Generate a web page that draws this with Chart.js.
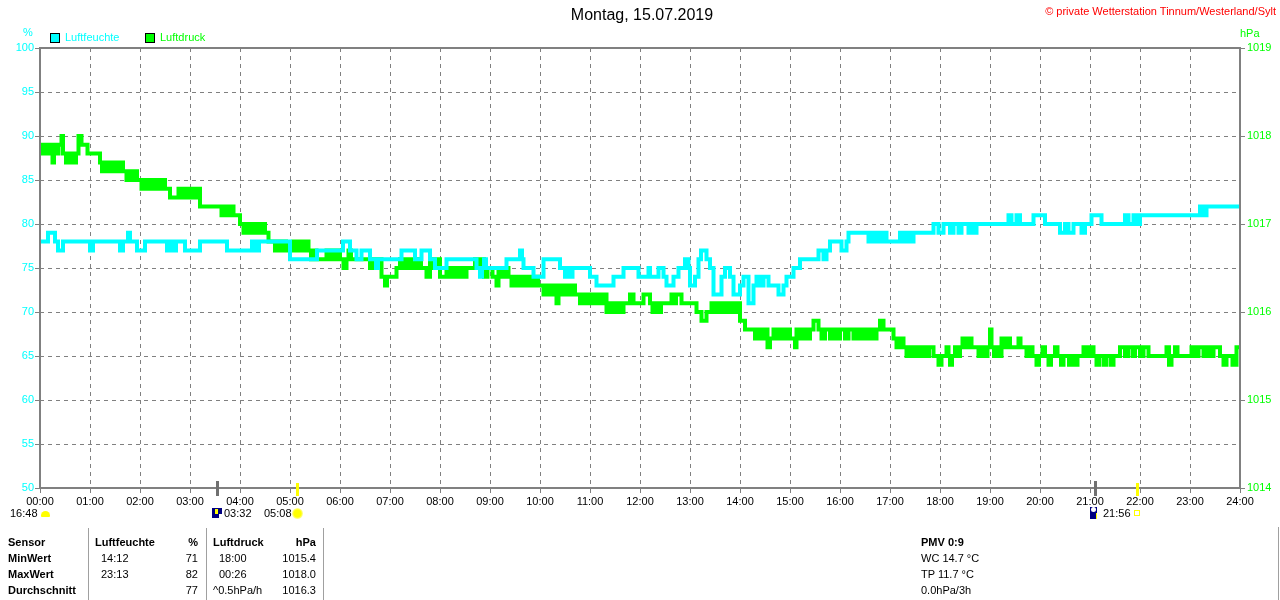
<!DOCTYPE html>
<html lang="de">
<head>
<meta charset="utf-8">
<title>Montag, 15.07.2019</title>
<script src="https://cdn.jsdelivr.net/npm/chart.js@4.4.1/dist/chart.umd.min.js"></script>
<style>
  body { margin: 0; background: #fff; font-family: "Liberation Sans", Arial, sans-serif; font-size: 11px; color: #000; }
  #wrap { position: relative; width: 1280px; height: 600px; overflow: hidden; }
  #chart { position: absolute; left: 0; top: 0; }
  .t { position: absolute; white-space: nowrap; line-height: 13px; }
  .b { font-weight: bold; }
  .vl { position: absolute; width: 1px; background: #a0a0a0; top: 528px; height: 72px; }
  .sq { position: absolute; width: 8px; height: 8px; border: 1px solid #000; top: 33px; }
</style>
</head>
<body>
<div id="wrap">
  <canvas id="chart" width="1280" height="600"></canvas>

  <div class="t" style="left:0;width:1284px;text-align:center;top:6px;font-size:16px;line-height:18px;">Montag, 15.07.2019</div>
  <div class="t" style="right:4px;top:5px;color:#ff0000;">© private Wetterstation Tinnum/Westerland/Sylt</div>

  <div class="t" style="left:23px;top:26px;color:#00ffff;">%</div>
  <div class="t" style="left:1240px;top:27px;color:#00ff00;">hPa</div>

  <div class="sq" style="left:50px;background:#00ffff;"></div>
  <div class="t" style="left:65px;top:31px;color:#00ffff;">Luftfeuchte</div>
  <div class="sq" style="left:145px;background:#00ff00;"></div>
  <div class="t" style="left:160px;top:31px;color:#00ff00;">Luftdruck</div>

  <!-- Zeiten unter der Achse -->
  <div class="t" style="left:10px;top:507px;">16:48</div>
  <div style="position:absolute;left:41px;top:511px;width:9px;height:6px;background:#ffff00;border-radius:5px 5px 1px 1px;"></div>
  <div style="position:absolute;left:212px;top:508px;width:10px;height:10px;background:#000080;"></div>
  <div style="position:absolute;left:215px;top:509px;width:3px;height:5px;background:#ffff00;"></div>
  <div style="position:absolute;left:219px;top:514px;width:3px;height:4px;background:#ffffff;"></div>
  <div class="t" style="left:224px;top:507px;">03:32</div>
  <div class="t" style="left:264px;top:507px;">05:08</div>
  <div style="position:absolute;left:292px;top:508px;width:11px;height:11px;border-radius:6px;background:radial-gradient(circle,#ffff00 45%,#ffffa0 70%,#fff 100%);"></div>
  <div style="position:absolute;left:1090px;top:507px;width:7px;height:12px;background:#000080;"></div>
  <div style="position:absolute;left:1091px;top:507px;width:5px;height:5px;border-radius:3px;background:#ffffff;"></div>
  <div style="position:absolute;left:1096px;top:513px;width:1px;height:6px;background:#ffff00;"></div>
  <div class="t" style="left:1103px;top:507px;">21:56</div>
  <div style="position:absolute;left:1134px;top:510px;width:4px;height:4px;border:1px solid #ffff00;"></div>

  <!-- Tabelle -->
  <div class="vl" style="left:88px;"></div>
  <div class="vl" style="left:206px;"></div>
  <div class="vl" style="left:323px;"></div>
  <div class="vl" style="left:1278px;top:527px;height:73px;"></div>

  <div class="t b" style="left:8px;top:536px;">Sensor</div>
  <div class="t b" style="left:8px;top:552px;">MinWert</div>
  <div class="t b" style="left:8px;top:568px;">MaxWert</div>
  <div class="t b" style="left:8px;top:584px;">Durchschnitt</div>

  <div class="t b" style="left:95px;top:536px;">Luftfeuchte</div>
  <div class="t b" style="right:1082px;top:536px;">%</div>
  <div class="t" style="left:101px;top:552px;">14:12</div>
  <div class="t" style="right:1082px;top:552px;">71</div>
  <div class="t" style="left:101px;top:568px;">23:13</div>
  <div class="t" style="right:1082px;top:568px;">82</div>
  <div class="t" style="right:1082px;top:584px;">77</div>

  <div class="t b" style="left:213px;top:536px;">Luftdruck</div>
  <div class="t b" style="right:964px;top:536px;">hPa</div>
  <div class="t" style="left:219px;top:552px;">18:00</div>
  <div class="t" style="right:964px;top:552px;">1015.4</div>
  <div class="t" style="left:219px;top:568px;">00:26</div>
  <div class="t" style="right:964px;top:568px;">1018.0</div>
  <div class="t" style="left:213px;top:584px;">^0.5hPa/h</div>
  <div class="t" style="right:964px;top:584px;">1016.3</div>

  <div class="t b" style="left:921px;top:536px;">PMV 0:9</div>
  <div class="t" style="left:921px;top:552px;">WC 14.7 °C</div>
  <div class="t" style="left:921px;top:568px;">TP 11.7 °C</div>
  <div class="t" style="left:921px;top:584px;">0.0hPa/3h</div>
</div>

<script>
// Stundenbeschriftung der Zeitachse
const hourLabels = ['00:00', '01:00', '02:00', '03:00', '04:00', '05:00', '06:00', '07:00', '08:00',
  '09:00', '10:00', '11:00', '12:00', '13:00', '14:00', '15:00', '16:00', '17:00', '18:00',
  '19:00', '20:00', '21:00', '22:00', '23:00', '24:00'];

// Luftfeuchte [Stunde, %] - Wert gilt bis zum naechsten Punkt
const humidity = [
  [0, 78], [0.16, 79], [0.3, 78], [0.36, 77], [0.46, 78], [1.0, 77], [1.06, 78], [1.6, 77], [1.66, 78],
  [1.76, 79], [1.8, 78], [1.94, 77], [2.1, 78], [2.54, 77], [2.6, 78], [2.66, 77], [2.72, 78], [2.9, 77],
  [3.2, 78], [3.74, 77], [4.24, 78], [4.32, 77], [4.38, 78], [5.0, 76], [5.54, 77], [6.06, 78], [6.2, 77],
  [6.33, 76], [6.43, 77], [6.6, 76], [6.72, 75], [6.76, 76], [7.23, 77], [7.5, 76], [7.63, 77], [7.8, 76],
  [7.9, 75], [8.13, 76], [8.73, 75], [8.8, 74], [8.84, 75], [8.88, 76], [8.92, 75], [9.33, 76], [9.6, 77],
  [9.64, 76], [9.67, 75], [9.87, 74], [10.07, 76], [10.4, 75], [10.5, 74], [10.55, 75], [10.6, 74],
  [10.65, 75], [11.0, 74], [11.13, 73], [11.47, 74], [11.67, 75], [11.97, 74], [12.17, 75], [12.2, 74],
  [12.37, 75], [12.47, 74], [12.53, 73], [12.67, 74], [12.77, 75], [12.9, 76], [12.97, 75], [13.0, 73],
  [13.1, 74], [13.17, 76], [13.22, 77], [13.33, 76], [13.4, 75], [13.47, 72], [13.63, 74], [13.7, 75],
  [13.8, 74], [13.87, 72], [14.0, 73], [14.07, 74], [14.17, 71], [14.27, 73], [14.33, 74], [14.4, 73],
  [14.47, 74], [14.57, 73], [14.77, 72], [14.87, 73], [14.93, 74], [15.07, 75], [15.2, 76], [15.57, 77],
  [15.67, 76], [15.73, 77], [15.8, 78], [16.03, 77], [16.13, 78], [16.17, 79], [16.57, 78], [16.63, 79],
  [16.7, 78], [16.77, 79], [16.83, 78], [16.87, 79], [16.93, 78], [17.2, 79], [17.27, 78], [17.33, 79],
  [17.4, 78], [17.47, 79], [17.87, 80], [17.97, 79], [18.07, 80], [18.2, 79], [18.27, 80], [18.37, 79],
  [18.43, 80], [18.57, 79], [18.63, 80], [18.67, 79], [18.73, 80], [19.37, 81], [19.43, 80], [19.53, 81],
  [19.6, 80], [19.87, 81], [20.1, 80], [20.4, 79], [20.5, 80], [20.57, 79], [20.67, 80], [20.83, 79],
  [20.9, 80], [21.03, 81], [21.23, 80], [21.7, 81], [21.77, 80], [21.87, 81], [21.93, 80], [22.0, 81],
  [23.2, 82], [23.27, 81], [23.33, 82], [24, 82]
];

// Luftdruck [Stunde, hPa]
const pressure = [
  [0.00, 1017.8], [0.04, 1017.9], [0.08, 1017.8], [0.12, 1017.9], [0.16, 1017.8], [0.20, 1017.9], [0.25, 1017.7],
  [0.28, 1017.9], [0.33, 1017.8], [0.37, 1017.9], [0.43, 1018.0], [0.46, 1017.8], [0.52, 1017.7], [0.56, 1017.8],
  [0.60, 1017.7], [0.63, 1017.8], [0.68, 1017.7], [0.72, 1017.8], [0.77, 1018.0], [0.83, 1017.9], [0.95, 1017.8],
  [1.20, 1017.7], [1.24, 1017.6], [1.28, 1017.7], [1.33, 1017.6], [1.38, 1017.7], [1.43, 1017.6], [1.50, 1017.7],
  [1.55, 1017.6], [1.60, 1017.7], [1.66, 1017.6], [1.73, 1017.5], [1.78, 1017.6], [1.83, 1017.5], [1.88, 1017.6],
  [1.94, 1017.5], [2.03, 1017.4], [2.08, 1017.5], [2.13, 1017.4], [2.20, 1017.5], [2.25, 1017.4], [2.32, 1017.5],
  [2.38, 1017.4], [2.45, 1017.5], [2.50, 1017.4], [2.60, 1017.3], [2.77, 1017.4], [2.82, 1017.3], [2.88, 1017.4],
  [2.95, 1017.3], [3.00, 1017.4], [3.07, 1017.3], [3.12, 1017.4], [3.20, 1017.2], [3.63, 1017.1], [3.68, 1017.2],
  [3.74, 1017.1], [3.80, 1017.2], [3.87, 1017.1], [4.00, 1017.0], [4.07, 1016.9], [4.12, 1017.0], [4.17, 1016.9],
  [4.22, 1017.0], [4.27, 1016.9], [4.33, 1017.0], [4.38, 1016.9], [4.43, 1017.0], [4.50, 1016.9], [4.57, 1016.8],
  [4.70, 1016.7], [4.75, 1016.8], [4.80, 1016.7], [4.86, 1016.8], [4.92, 1016.7], [5.07, 1016.8], [5.12, 1016.7],
  [5.18, 1016.8], [5.24, 1016.7], [5.30, 1016.8], [5.37, 1016.7], [5.42, 1016.6], [5.47, 1016.7], [5.53, 1016.6],
  [5.73, 1016.7], [5.78, 1016.6], [5.84, 1016.7], [5.90, 1016.6], [5.95, 1016.7], [6.00, 1016.6], [6.07, 1016.5],
  [6.13, 1016.6], [6.17, 1016.7], [6.22, 1016.6], [6.60, 1016.5], [6.65, 1016.6], [6.83, 1016.4], [6.90, 1016.3],
  [6.94, 1016.4], [7.13, 1016.5], [7.20, 1016.6], [7.25, 1016.5], [7.30, 1016.6], [7.36, 1016.5], [7.42, 1016.6],
  [7.48, 1016.5], [7.55, 1016.6], [7.62, 1016.5], [7.73, 1016.4], [7.80, 1016.6], [7.86, 1016.5], [7.93, 1016.6],
  [8.00, 1016.4], [8.13, 1016.5], [8.18, 1016.4], [8.25, 1016.5], [8.32, 1016.4], [8.40, 1016.5], [8.47, 1016.4],
  [8.53, 1016.5], [8.70, 1016.6], [8.75, 1016.5], [8.82, 1016.6], [8.88, 1016.4], [8.95, 1016.5], [9.05, 1016.4],
  [9.13, 1016.3], [9.17, 1016.5], [9.23, 1016.4], [9.30, 1016.5], [9.37, 1016.4], [9.43, 1016.3], [9.50, 1016.4],
  [9.56, 1016.3], [9.62, 1016.4], [9.70, 1016.3], [9.76, 1016.4], [9.83, 1016.3], [9.90, 1016.4], [9.96, 1016.3],
  [10.07, 1016.2], [10.12, 1016.3], [10.18, 1016.2], [10.25, 1016.3], [10.33, 1016.1], [10.37, 1016.3], [10.43, 1016.2],
  [10.50, 1016.3], [10.56, 1016.2], [10.62, 1016.3], [10.70, 1016.2], [10.80, 1016.1], [10.86, 1016.2], [10.92, 1016.1],
  [11.00, 1016.2], [11.06, 1016.1], [11.13, 1016.2], [11.20, 1016.1], [11.27, 1016.2], [11.33, 1016.0], [11.40, 1016.1],
  [11.47, 1016.0], [11.53, 1016.1], [11.60, 1016.0], [11.67, 1016.1], [11.80, 1016.2], [11.87, 1016.1], [12.07, 1016.2],
  [12.20, 1016.1], [12.25, 1016.0], [12.30, 1016.1], [12.36, 1016.0], [12.42, 1016.1], [12.63, 1016.2], [12.67, 1016.1],
  [12.72, 1016.2], [12.83, 1016.1], [13.13, 1016.0], [13.23, 1015.9], [13.33, 1016.0], [13.43, 1016.1], [13.48, 1016.0],
  [13.53, 1016.1], [13.58, 1016.0], [13.63, 1016.1], [13.68, 1016.0], [13.73, 1016.1], [13.78, 1016.0], [13.83, 1016.1],
  [13.88, 1016.0], [13.93, 1016.1], [14.00, 1015.9], [14.10, 1015.8], [14.30, 1015.7], [14.35, 1015.8], [14.42, 1015.7],
  [14.48, 1015.8], [14.55, 1015.6], [14.60, 1015.7], [14.67, 1015.8], [14.73, 1015.7], [14.80, 1015.8], [14.87, 1015.7],
  [14.93, 1015.8], [15.00, 1015.7], [15.10, 1015.6], [15.13, 1015.8], [15.20, 1015.7], [15.27, 1015.8], [15.33, 1015.7],
  [15.40, 1015.8], [15.47, 1015.9], [15.57, 1015.8], [15.63, 1015.7], [15.70, 1015.8], [15.80, 1015.7], [15.87, 1015.8],
  [15.93, 1015.7], [16.00, 1015.8], [16.10, 1015.7], [16.17, 1015.8], [16.27, 1015.7], [16.33, 1015.8], [16.40, 1015.7],
  [16.47, 1015.8], [16.53, 1015.7], [16.60, 1015.8], [16.67, 1015.7], [16.73, 1015.8], [16.80, 1015.9], [16.87, 1015.8],
  [17.07, 1015.7], [17.13, 1015.6], [17.20, 1015.7], [17.27, 1015.6], [17.33, 1015.5], [17.40, 1015.6], [17.47, 1015.5],
  [17.53, 1015.6], [17.60, 1015.5], [17.66, 1015.6], [17.72, 1015.5], [17.78, 1015.6], [17.87, 1015.5], [17.97, 1015.4],
  [18.03, 1015.5], [18.13, 1015.6], [18.17, 1015.5], [18.20, 1015.4], [18.24, 1015.5], [18.30, 1015.6], [18.35, 1015.5],
  [18.40, 1015.6], [18.45, 1015.7], [18.50, 1015.6], [18.55, 1015.7], [18.63, 1015.6], [18.77, 1015.5], [18.83, 1015.6],
  [18.90, 1015.5], [18.95, 1015.6], [19.00, 1015.8], [19.03, 1015.6], [19.08, 1015.5], [19.13, 1015.6], [19.20, 1015.5],
  [19.23, 1015.7], [19.30, 1015.6], [19.35, 1015.7], [19.40, 1015.6], [19.57, 1015.7], [19.61, 1015.6], [19.73, 1015.5],
  [19.78, 1015.6], [19.85, 1015.5], [19.93, 1015.4], [19.98, 1015.5], [20.05, 1015.6], [20.10, 1015.5], [20.17, 1015.4],
  [20.22, 1015.5], [20.30, 1015.6], [20.35, 1015.5], [20.42, 1015.4], [20.47, 1015.5], [20.58, 1015.4], [20.63, 1015.5],
  [20.70, 1015.4], [20.75, 1015.5], [20.87, 1015.6], [20.93, 1015.5], [21.00, 1015.6], [21.07, 1015.5], [21.13, 1015.4],
  [21.18, 1015.5], [21.27, 1015.4], [21.33, 1015.5], [21.42, 1015.4], [21.47, 1015.5], [21.60, 1015.6], [21.70, 1015.5],
  [21.76, 1015.6], [21.85, 1015.5], [21.90, 1015.6], [22.00, 1015.5], [22.07, 1015.6], [22.17, 1015.5], [22.53, 1015.6],
  [22.58, 1015.4], [22.63, 1015.5], [22.70, 1015.6], [22.75, 1015.5], [23.03, 1015.6], [23.10, 1015.5], [23.17, 1015.6],
  [23.27, 1015.5], [23.33, 1015.6], [23.40, 1015.5], [23.47, 1015.6], [23.60, 1015.5], [23.67, 1015.4], [23.73, 1015.5],
  [23.85, 1015.4], [23.93, 1015.6], [24.00, 1015.6]
];

// Mondaufgang, Sonnenaufgang, Monduntergang, Sonnenuntergang (Stunden)
const astroTimes = [3.533, 5.133, 21.1, 21.933];
const astroKinds = ['moon', 'sun', 'moon', 'sun'];

// Rahmen und Markierungen fuer Sonne/Mond
const frameAndMarkers = {
  id: 'frameAndMarkers',
  afterDraw(chart) {
    const { ctx, chartArea: a } = chart;
    const x = chart.scales.x;
    ctx.save();
    ctx.strokeStyle = '#808080';
    ctx.lineWidth = 2;
    ctx.strokeRect(a.left, a.top, a.right - a.left, a.bottom - a.top);
    ctx.lineWidth = 3;
    astroTimes.forEach((t, i) => {
      const px = Math.round(x.getPixelForValue(t)) + 0.5;
      const sun = astroKinds[i] === 'sun';
      ctx.strokeStyle = sun ? '#ffff00' : '#707070';
      ctx.beginPath();
      ctx.moveTo(px, a.bottom - (sun ? 5 : 7));
      ctx.lineTo(px, a.bottom + 8);
      ctx.stroke();
    });
    ctx.restore();
  }
};

Chart.defaults.font.family = '"Liberation Sans", Arial, sans-serif';
Chart.defaults.font.size = 11;

new Chart(document.getElementById('chart'), {
  type: 'line',
  data: {
    datasets: [{
      label: 'Luftfeuchte',
      data: humidity.map(p => ({ x: p[0], y: p[1] })),
      yAxisID: 'y',
      borderColor: '#00ffff',
      borderWidth: 4,
      stepped: true,
      pointRadius: 0
    }, {
      label: 'Luftdruck',
      data: pressure.map(p => ({ x: p[0], y: p[1] })),
      yAxisID: 'y2',
      borderColor: '#00ff00',
      borderWidth: 4,
      stepped: true,
      pointRadius: 0
    }]
  },
  options: {
    responsive: false,
    devicePixelRatio: 1,
    animation: false,
    events: [],
    layout: { padding: { top: 48, left: 0, right: 0, bottom: 0 } },
    plugins: { legend: { display: false }, tooltip: { enabled: false } },
    scales: {
      x: {
        type: 'linear',
        min: 0,
        max: 24,
        afterFit(scale) { scale.height = 112; },
        ticks: {
          stepSize: 1,
          autoSkip: false,
          maxRotation: 0,
          padding: 2,
          color: '#000',
          callback: v => hourLabels[v]
        },
        grid: { color: '#808080', tickColor: '#808080', tickLength: 5 },
        border: { display: false, dash: [4, 4] }
      },
      y: {
        position: 'left',
        min: 50,
        max: 100,
        afterFit(scale) { scale.width = 40; },
        ticks: { stepSize: 5, color: '#00ffff', padding: 1, callback: v => String(v) },
        grid: { color: '#808080', tickColor: '#808080', tickLength: 5 },
        border: { display: false, dash: [4, 4] }
      },
      y2: {
        position: 'right',
        min: 1014,
        max: 1019,
        afterFit(scale) { scale.width = 40; },
        ticks: { stepSize: 1, color: '#00ff00', padding: 2, callback: v => String(v) },
        grid: { drawOnChartArea: false, tickColor: '#808080', tickLength: 5 },
        border: { display: false }
      }
    }
  },
  plugins: [frameAndMarkers]
});
</script>
</body>
</html>
